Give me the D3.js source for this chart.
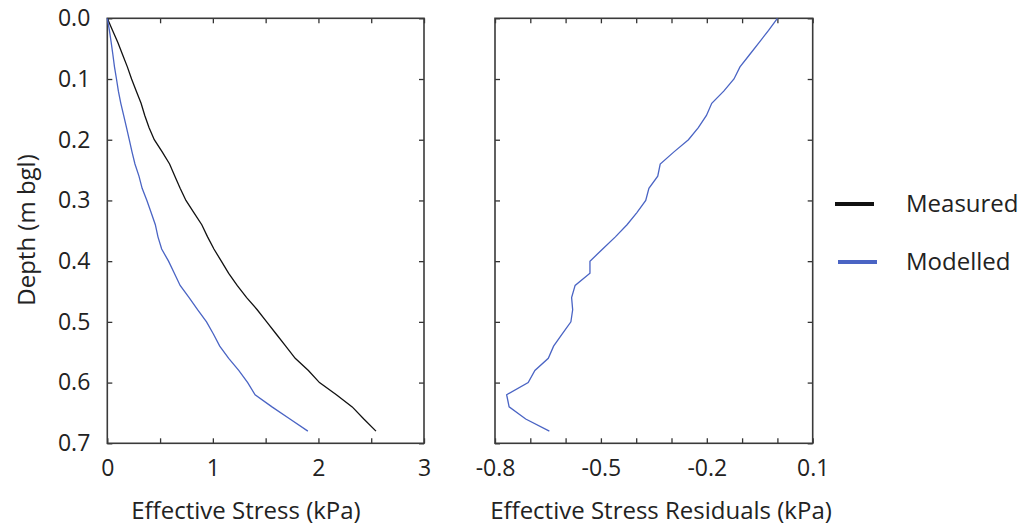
<!DOCTYPE html>
<html>
<head>
<meta charset="utf-8">
<script src="https://cdn.jsdelivr.net/npm/d3@7"></script>
<style>
  body { margin: 0; background: #fff; }
  svg { display: block; }
  text { font-family: "Open Sans", sans-serif; fill: #222; }
</style>
</head>
<body>
<svg id="chart" width="1027" height="531"></svg>
<script>
// ---- data ----
const depths = [0, 0.02, 0.04, 0.06, 0.08, 0.10, 0.12, 0.14, 0.16, 0.18, 0.20, 0.22, 0.24, 0.26, 0.28, 0.30, 0.32, 0.34,
  0.36, 0.38, 0.40, 0.42, 0.44, 0.46, 0.48, 0.50, 0.52, 0.54, 0.56, 0.58, 0.60, 0.62, 0.64, 0.66, 0.68];
const measured = [0, 0.05, 0.10, 0.145, 0.19, 0.23, 0.275, 0.32, 0.355, 0.395, 0.445, 0.52, 0.59, 0.64, 0.69, 0.745, 0.82, 0.895,
  0.95, 1.01, 1.08, 1.15, 1.23, 1.32, 1.42, 1.51, 1.60, 1.69, 1.78, 1.905, 2.01, 2.17, 2.32, 2.43, 2.545];
const modelled = [0, 0.02, 0.037, 0.053, 0.068, 0.087, 0.105, 0.128, 0.155, 0.182, 0.208, 0.234, 0.262, 0.30, 0.33, 0.375, 0.415, 0.455,
  0.48, 0.515, 0.58, 0.635, 0.69, 0.775, 0.855, 0.94, 1.005, 1.065, 1.15, 1.245, 1.33, 1.40, 1.56, 1.73, 1.90];
const residuals = [0.0, -0.025, -0.052, -0.079, -0.106, -0.123, -0.152, -0.186, -0.201, -0.224, -0.252, -0.293, -0.332, -0.339, -0.364, -0.373, -0.398, -0.426,
  -0.459, -0.495, -0.531, -0.531, -0.573, -0.583, -0.580, -0.585, -0.61, -0.634, -0.649, -0.687, -0.706, -0.767, -0.760, -0.713, -0.646];

const depthTicks = [0, 0.1, 0.2, 0.3, 0.4, 0.5, 0.6, 0.7];
const stressTicks = [0, 0.5, 1, 1.5, 2, 2.5, 3];
const stressLabels = [0, 1, 2, 3];
const residTicks = [-0.8, -0.7, -0.6, -0.5, -0.4, -0.3, -0.2, -0.1, 0, 0.1];
const residLabels = [-0.8, -0.5, -0.2, 0.1];
const seriesNames = ["Measured", "Modelled"];
const seriesColors = ["#111111", "#4a64c4"];

// ---- layout ----
const svg = d3.select("#chart");
const topY = 18.3, bottomY = 443.3;
const L = { x0: 107.3, x1: 424 };
const R = { x0: 495, x1: 812.7 };
const tickLen = 5, fs = 23, titleFs = 24;

const y = d3.scaleLinear().domain([0, 0.7]).range([topY, bottomY]);
const xL = d3.scaleLinear().domain([0, 3]).range([L.x0, L.x1]);
const xR = d3.scaleLinear().domain([-0.8, 0.1]).range([R.x0, R.x1]);

function near(a, b) { return Math.abs(a - b) < 1e-9; }

function panel(x, xTicks, xLabels, showYLabels, fmtX) {
  const g = svg.append("g");
  g.append("g").attr("transform", `translate(0,${bottomY})`)
    .call(d3.axisBottom(x).tickValues(xTicks).tickSize(-tickLen).tickPadding(16)
      .tickFormat(d => xLabels.some(v => near(v, d)) ? fmtX(d) : ""));
  g.append("g").attr("transform", `translate(0,${topY})`)
    .call(d3.axisTop(x).tickValues(xTicks).tickSize(-tickLen).tickFormat(""));
  g.append("g").attr("transform", `translate(${x.range()[0]},0)`)
    .call(d3.axisLeft(y).tickValues(depthTicks).tickSize(-tickLen).tickPadding(17)
      .tickFormat(d => showYLabels ? d.toFixed(1) : ""));
  g.append("g").attr("transform", `translate(${x.range()[1]},0)`)
    .call(d3.axisRight(y).tickValues(depthTicks).tickSize(-tickLen).tickFormat(""));
  g.selectAll(".domain").remove();
  g.selectAll(".tick line").attr("stroke", "#333").attr("stroke-width", 1.3);
  g.selectAll(".tick text").style("font-size", fs + "px").attr("fill", "#222");
  g.append("rect")
    .attr("x", x.range()[0]).attr("y", topY)
    .attr("width", x.range()[1] - x.range()[0]).attr("height", bottomY - topY)
    .attr("fill", "none").attr("stroke", "#3a3a3a").attr("stroke-width", 1.6);
  return g;
}

panel(xL, stressTicks, stressLabels, true, d => String(d));
panel(xR, residTicks, residLabels, false, d => d.toFixed(1));

// lines
const lineL = (vals) => d3.line().x((d, i) => xL(vals[i])).y((d, i) => y(depths[i]))(depths);
svg.append("path").attr("d", lineL(measured)).attr("fill", "none")
  .attr("stroke", seriesColors[0]).attr("stroke-width", 1.3);
svg.append("path").attr("d", lineL(modelled)).attr("fill", "none")
  .attr("stroke", seriesColors[1]).attr("stroke-width", 1.3);
svg.append("path")
  .attr("d", d3.line().x((d, i) => xR(residuals[i])).y((d, i) => y(depths[i]))(depths))
  .attr("fill", "none").attr("stroke", seriesColors[1]).attr("stroke-width", 1.3);

// axis titles
svg.append("text").attr("x", 246).attr("y", 519).attr("text-anchor", "middle")
  .style("font-size", titleFs + "px").text("Effective Stress (kPa)");
svg.append("text").attr("x", 661).attr("y", 519).attr("text-anchor", "middle")
  .style("font-size", titleFs + "px").text("Effective Stress Residuals (kPa)");
svg.append("text").attr("transform", "translate(35,230) rotate(-90)").attr("text-anchor", "middle")
  .style("font-size", titleFs + "px").text("Depth (m bgl)");

// legend
const legY = [204, 262];
const legX = [835, 838];
seriesNames.forEach((n, i) => {
  svg.append("line").attr("x1", legX[i]).attr("x2", legX[i] + 39)
    .attr("y1", legY[i]).attr("y2", legY[i])
    .attr("stroke", seriesColors[i]).attr("stroke-width", 4);
  svg.append("text").attr("x", 906).attr("y", legY[i]).attr("dy", "0.35em")
    .style("font-size", titleFs + "px").text(n);
});
</script>
</body>
</html>
